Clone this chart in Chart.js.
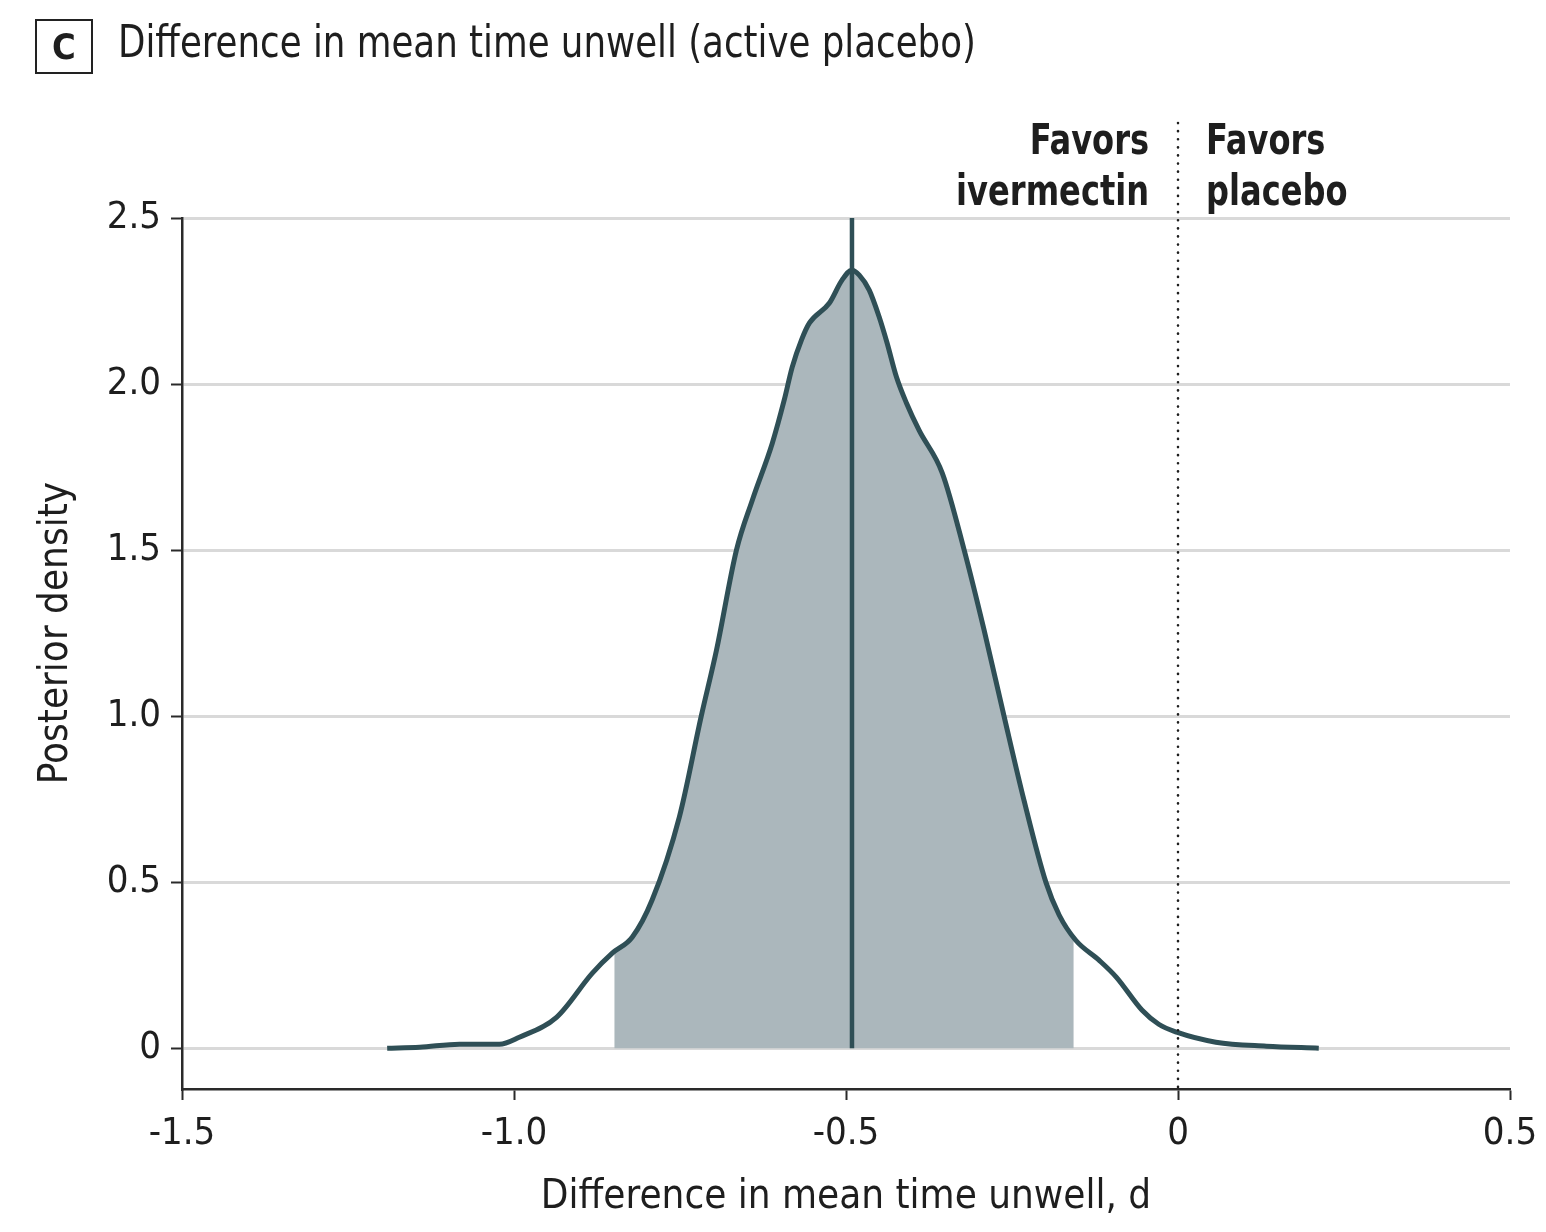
<!DOCTYPE html>
<html><head><meta charset="utf-8">
<script src="https://cdn.jsdelivr.net/npm/chart.js@4.4.1/dist/chart.umd.min.js"></script>
<style>
html,body{margin:0;padding:0;background:#fff;}
#wrap{position:relative;width:1546px;height:1232px;overflow:hidden;}
#c{position:absolute;left:0;top:0;}
.txt{font-family:'DejaVu Sans Condensed','Liberation Sans Narrow','DejaVu Sans',sans-serif;color:#1e1e1e;position:absolute;white-space:nowrap;}
#box{left:35px;top:19px;width:58px;height:55px;border:2px solid #222;box-sizing:border-box;font-weight:bold;font-size:36px;text-align:center;line-height:51px;}
#title{left:118px;top:12px;font-size:44px;line-height:60px;transform:scaleX(0.90);transform-origin:0 0;}
.fav{font-weight:bold;font-size:42px;line-height:51px;top:114px;}
#favL{text-align:right;transform:scaleX(0.85);transform-origin:100% 0;}
#favR{text-align:left;transform:scaleX(0.85);transform-origin:0 0;}
</style></head>
<body>
<div id="wrap">
<canvas id="c" width="1546" height="1232"></canvas>
<div id="box" class="txt">C</div>
<div id="title" class="txt">Difference in mean time unwell (active placebo)</div>
<div id="favL" class="txt fav">Favors<br>ivermectin</div>
<div id="favR" class="txt fav">Favors<br>placebo</div>
</div>
<script>
// ---- data ----
const diffValues = [-1.191,-1.142,-1.082,-1.022,-0.992,-0.936,-0.882,-0.852,-0.822,-0.792,-0.751,-0.718,-0.695,-0.665,-0.641,-0.611,-0.593,-0.581,-0.567,-0.555,-0.525,-0.506,-0.491,-0.480,-0.465,-0.450,-0.438,-0.424,-0.409,-0.390,-0.355,-0.322,-0.292,-0.262,-0.232,-0.199,-0.179,-0.154,-0.119,-0.093,-0.054,-0.029,-0.002,0.057,0.133,0.212];
const densityValues = [0.000,0.003,0.012,0.012,0.033,0.093,0.226,0.286,0.334,0.446,0.696,1.000,1.199,1.500,1.651,1.822,1.952,2.051,2.133,2.184,2.244,2.313,2.343,2.328,2.283,2.202,2.123,2.021,1.943,1.861,1.732,1.500,1.259,1.000,0.747,0.500,0.401,0.325,0.265,0.214,0.114,0.072,0.048,0.018,0.006,0.000];
const credibleInterval = [-0.849, -0.157];
const ciBoundaryDensity = [0.288, 0.331];
const medianDiff = -0.491;
const nullValue = 0;
const xTickValues = [-1.5, -1.0, -0.5, 0, 0.5];
const yTickValues = [0, 0.5, 1.0, 1.5, 2.0, 2.5];
const xTitle = 'Difference in mean time unwell, d';
const yTitle = 'Posterior density';

const FONT = "'DejaVu Sans Condensed','Liberation Sans Narrow','DejaVu Sans',sans-serif";
const CURVE = '#2f4f56';
const FILL = '#abb7bc';
const GRID = '#d9d9d9';
const AXIS = '#2a2a2a';

const points = diffValues.map((x, i) => ({x, y: densityValues[i]}));
const shadePoints = [{x: credibleInterval[0], y: ciBoundaryDensity[0]}]
  .concat(points.filter(p => p.x > credibleInterval[0] && p.x < credibleInterval[1]))
  .concat([{x: credibleInterval[1], y: ciBoundaryDensity[1]}]);

const extras = {
  id: 'extras',
  afterDatasetsDraw(chart) {
    const {ctx, chartArea} = chart;
    const px = chart.scales.x.getPixelForValue(nullValue);
    ctx.save();
    ctx.strokeStyle = '#1e1e1e';
    ctx.lineWidth = 2.6;
    ctx.lineCap = 'round';
    ctx.setLineDash([0.1, 8]);
    ctx.beginPath();
    ctx.moveTo(px, 123);
    ctx.lineTo(px, chartArea.bottom);
    ctx.stroke();
    ctx.restore();
  },
  afterDraw(chart) {
    const {ctx} = chart;
    const ys = chart.scales.y;
    const cy = (ys.getPixelForValue(0) + ys.getPixelForValue(2.5)) / 2;
    ctx.save();
    ctx.translate(57, cy);
    ctx.rotate(-Math.PI / 2);
    ctx.fillStyle = '#1e1e1e';
    ctx.font = '40px ' + FONT;
    ctx.textAlign = 'center';
    ctx.textBaseline = 'middle';
    ctx.fillText(yTitle, 0, 0);
    ctx.restore();
  }
};

const fmt = v => (v === 0 ? '0' : v.toFixed(1));

const chart = new Chart(document.getElementById('c'), {
  type: 'line',
  data: {
    datasets: [
      {data: shadePoints, order: 3, fill: 'origin', backgroundColor: FILL, borderWidth: 0, pointRadius: 0, cubicInterpolationMode: 'monotone'},
      {data: points, order: 2, fill: false, borderColor: CURVE, borderWidth: 5, pointRadius: 0, cubicInterpolationMode: 'monotone'},
      {data: [{x: medianDiff, y: 0}, {x: medianDiff, y: 2.5}], order: 1, fill: false, borderColor: CURVE, borderWidth: 4.5, pointRadius: 0}
    ]
  },
  options: {
    responsive: false,
    animation: false,
    events: [],
    layout: {padding: {top: 218, right: 36, left: 0, bottom: 0}},
    plugins: {legend: {display: false}, tooltip: {enabled: false}},
    scales: {
      x: {
        type: 'linear', min: -1.5, max: 0.5,
        afterBuildTicks: s => { s.ticks = xTickValues.map(v => ({value: v})); },
        afterFit: s => { s.height = 143; s.paddingLeft = 0; s.paddingRight = 0; },
        grid: {drawOnChartArea: false, drawTicks: true, tickLength: 11, tickColor: AXIS, tickWidth: 2},
        border: {color: AXIS, width: 2.5},
        ticks: {callback: v => fmt(v), color: '#1e1e1e', font: {family: FONT, size: 38}, padding: 11, maxRotation: 0},
        title: {display: true, text: xTitle, color: '#1e1e1e', font: {family: FONT, size: 40}, padding: {top: 12, bottom: 10}}
      },
      y: {
        type: 'linear', min: -0.123, max: 2.5,
        afterBuildTicks: s => { s.ticks = yTickValues.map(v => ({value: v})); },
        afterFit: s => { s.width = 182; s.paddingTop = 0; s.paddingBottom = 0; },
        grid: {color: GRID, lineWidth: 3, tickLength: 11, tickColor: AXIS, tickWidth: 2},
        border: {color: AXIS, width: 2.5},
        ticks: {callback: v => fmt(v), color: '#1e1e1e', font: {family: FONT, size: 38}, padding: 10}
      }
    }
  },
  plugins: [extras]
});

const zx = chart.scales.x.getPixelForValue(nullValue);
const favL = document.getElementById('favL');
const favR = document.getElementById('favR');
favR.style.left = (zx + 28) + 'px';
favL.style.right = (1546 - (zx - 29)) + 'px';
</script>
</body></html>
